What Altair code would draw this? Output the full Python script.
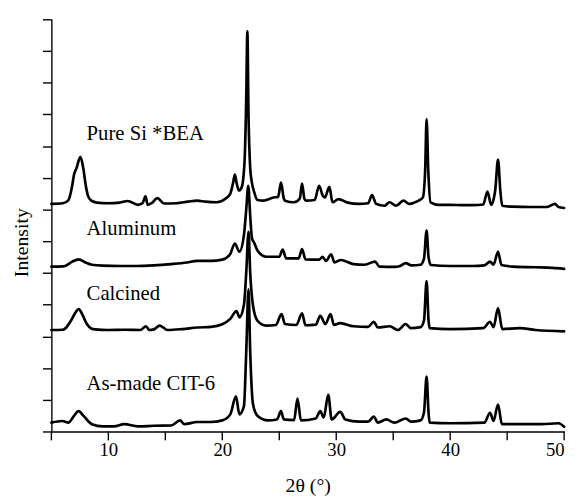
import altair as alt
import pandas as pd

# ---- Pure Si *BEA ----
pure_x = [5.0, 6.0, 6.5, 6.8, 7.0, 7.2, 7.55, 7.8, 8.0, 8.2, 8.5, 9.0, 10.0, 11.0, 11.7, 12.6, 13.0,
          13.26, 13.45, 13.8, 14.3, 14.9, 16.0, 17.0, 17.8, 18.5, 19.5, 20.3, 20.7, 20.95, 21.1, 21.25,
          21.45, 21.7, 21.95, 22.1, 22.2, 22.3, 22.45, 22.55, 22.8, 23.1, 23.6, 24.5, 24.9, 25.15, 25.4,
          25.5, 26.3, 26.8, 27.0, 27.2, 27.35, 28.1, 28.5, 28.8, 29.0, 29.4, 29.67, 30.2, 31.0, 32.0,
          32.8, 33.14, 33.5, 34.24, 34.67, 35.25, 35.9, 36.4, 37.1, 37.6, 37.8, 37.93, 38.08, 38.28,
          39.0, 40.0, 41.0, 42.0, 42.9, 43.27, 43.6, 43.95, 44.2, 44.4, 44.57, 45.5, 47.0, 48.5, 49.2,
          49.5, 50.0]
pure_y = [7.18, 7.2, 7.3, 7.7, 8.12, 8.3, 8.66, 8.3, 7.8, 7.45, 7.28, 7.22, 7.2, 7.22, 7.27, 7.15, 7.2,
          7.42, 7.15, 7.2, 7.36, 7.19, 7.2, 7.25, 7.28, 7.25, 7.23, 7.35, 7.5, 7.85, 8.1, 7.85,
          7.6, 7.7, 8.5, 10.5, 12.62, 10.0, 8.3, 7.95, 7.55, 7.3, 7.28, 7.38, 7.4, 7.85, 7.35,
          7.28, 7.23, 7.35, 7.82, 7.35, 7.28, 7.3, 7.75, 7.45, 7.38, 7.72, 7.23, 7.33, 7.22, 7.18,
          7.2, 7.46, 7.18, 7.12, 7.23, 7.12, 7.28, 7.18, 7.26, 7.38, 8.2, 9.85, 8.2, 7.23,
          7.15, 7.15, 7.14, 7.14, 7.16, 7.57, 7.15, 7.6, 8.58, 7.6, 7.12, 7.09, 7.08, 7.08, 7.18,
          7.08, 7.05]

# ---- Aluminum ----
alum_x = [5.0, 6.0, 6.25, 6.8, 7.4, 8.0, 8.55, 9.5, 11.0, 12.5, 14.0, 15.5, 16.9, 17.8, 19.0, 20.0,
          20.7, 21.1, 21.5, 21.9, 22.1, 22.28, 22.45, 22.6, 22.8, 23.1, 23.85, 25.0, 25.3, 25.6, 26.7,
          27.0, 27.3, 28.5, 28.8, 29.1, 29.55, 29.85, 30.4, 31.5, 32.5, 33.4, 33.8, 35.1, 35.6, 36.1,
          36.6, 37.4, 37.7, 37.93, 38.1, 38.3, 40.0, 42.0, 43.0, 43.5, 43.8, 44.2, 44.5, 45.5, 47.5,
          49.0, 50.0]
alum_y = [5.2, 5.21, 5.23, 5.35, 5.43, 5.33, 5.26, 5.23, 5.22, 5.22, 5.24, 5.28, 5.33, 5.38, 5.38, 5.42,
          5.6, 5.93, 5.67, 6.2, 7.0, 7.75, 6.8, 6.1, 5.95, 5.7, 5.51, 5.51, 5.74, 5.46, 5.46,
          5.75, 5.43, 5.42, 5.51, 5.38, 5.59, 5.33, 5.41, 5.28, 5.26, 5.36, 5.2, 5.19, 5.22, 5.31,
          5.24, 5.26, 5.45, 6.34, 5.5, 5.25, 5.22, 5.22, 5.24, 5.36, 5.26, 5.67, 5.25, 5.2, 5.18,
          5.16, 5.13]

# ---- Calcined ----
calc_x = [5.0, 6.0, 6.25, 6.8, 7.2, 7.4, 7.7, 8.1, 8.5, 8.85, 10.0, 11.5, 12.8, 13.3, 13.6, 14.0, 14.5,
          15.2, 16.5, 17.8, 19.0, 20.0, 20.7, 21.25, 21.5, 21.9, 22.1, 22.3, 22.45, 22.7, 23.1, 23.85,
          24.7, 25.2, 25.5, 26.5, 27.0, 27.3, 28.2, 28.6, 29.05, 29.5, 29.8, 30.35, 31.5, 32.8, 33.3,
          33.65, 34.7, 35.4, 36.1, 36.55, 37.4, 37.7, 37.93, 38.1, 38.2, 40.0, 42.9, 43.5, 43.8, 44.2,
          44.57, 46.1, 47.5, 50.0]
calc_y = [3.2, 3.21, 3.26, 3.55, 3.8, 3.86, 3.7, 3.4, 3.25, 3.22, 3.2, 3.21, 3.2, 3.32, 3.2, 3.22, 3.34,
          3.2, 3.23, 3.28, 3.3, 3.38, 3.55, 3.8, 3.6, 4.0, 5.0, 6.3, 5.0, 3.96, 3.49, 3.34,
          3.36, 3.7, 3.39, 3.36, 3.73, 3.35, 3.37, 3.65, 3.39, 3.7, 3.36, 3.42, 3.32, 3.3, 3.46,
          3.28, 3.32, 3.2, 3.39, 3.26, 3.29, 3.5, 4.74, 3.5, 3.26, 3.23, 3.26, 3.46, 3.29, 3.89,
          3.23, 3.26, 3.2, 3.16]

# ---- As-made CIT-6 ----
asm_x = [5.0, 5.95, 6.5, 7.0, 7.4, 7.8, 8.55, 9.5, 10.5, 11.4, 12.6, 14.0, 15.5, 16.3, 16.65, 17.8,
         19.0, 20.0, 20.7, 21.2, 21.5, 21.9, 22.1, 22.3, 22.45, 22.7, 23.1, 24.0, 24.8, 25.15, 25.4,
         26.3, 26.6, 26.9, 28.2, 28.6, 28.9, 29.3, 29.6, 30.35, 30.8, 32.0, 32.8, 33.3, 33.65, 34.4,
         35.1, 36.1, 36.55, 37.4, 37.7, 37.93, 38.1, 38.2, 40.0, 43.0, 43.5, 43.8, 44.2, 44.54, 46.0,
         48.0, 49.5, 50.0]
asm_y = [0.28, 0.33, 0.28, 0.5, 0.64, 0.5, 0.23, 0.16, 0.16, 0.23, 0.16, 0.18, 0.19, 0.35, 0.23, 0.3,
         0.3, 0.35, 0.54, 1.11, 0.54, 0.8, 2.5, 4.48, 2.5, 0.85, 0.49, 0.35, 0.38, 0.64, 0.38,
         0.36, 1.04, 0.35, 0.41, 0.64, 0.44, 1.16, 0.38, 0.62, 0.38, 0.31, 0.31, 0.47, 0.28, 0.38,
         0.28, 0.41, 0.31, 0.35, 0.6, 1.73, 0.6, 0.28, 0.26, 0.28, 0.59, 0.33, 0.85, 0.23, 0.23,
         0.23, 0.26, 0.15]

series_names = ["Pure Si *BEA", "Aluminum", "Calcined", "As-made CIT-6"]
series_data = [(pure_x, pure_y), (alum_x, alum_y), (calc_x, calc_y), (asm_x, asm_y)]

label_text = ["Pure Si *BEA", "Aluminum", "Calcined", "As-made CIT-6"]
label_x = [8.09, 8.09, 8.09, 8.09]
label_y = [9.18, 6.19, 4.15, 1.32]

x_ticks = [5, 10, 15, 20, 25, 30, 35, 40, 45, 50]
y_ticks = list(range(0, 14))

PLOT_W = 520
PLOT_H = 418

rows = []
for name, (xs, ys) in zip(series_names, series_data):
    for xv, yv in zip(xs, ys):
        rows.append({"series": name, "two_theta": xv, "intensity": yv})
df = pd.DataFrame(rows)
labels_df = pd.DataFrame({"label": label_text, "two_theta": label_x, "intensity": label_y})
xtick_df = pd.DataFrame({"two_theta": x_ticks})

FONT = "Liberation Serif"

x_enc = alt.X(
    "two_theta:Q",
    scale=alt.Scale(domain=[5, 50], nice=False, zero=False),
    axis=alt.Axis(
        values=x_ticks,
        tickCount=40,
        ticks=False,
        labelExpr="datum.value % 10 === 0 ? datum.label : ''",
        title="2θ (°)",
        grid=False,
        tickSize=8,
        labelBaseline="alphabetic",
        labelPadding=24,
        labelOverlap=False,
        titleBaseline="alphabetic",
        titleY=61,
    ),
)
y_enc = alt.Y(
    "intensity:Q",
    scale=alt.Scale(domain=[0, 13], nice=False, zero=False),
    axis=alt.Axis(
        values=y_ticks,
        tickCount=40,
        labels=False,
        title="Intensity",
        grid=False,
        tickSize=9,
        titleX=-24,
        titleY=226,
        titleAngle=-90,
        titleAlign="center",
        titleBaseline="alphabetic",
    ),
)

lines = alt.Chart(df).mark_line(
    color="black", strokeWidth=2.7, strokeJoin="round", strokeCap="round", interpolate="monotone"
).encode(x=x_enc, y=y_enc, detail="series:N")

texts = alt.Chart(labels_df).mark_text(
    align="left", baseline="alphabetic", font=FONT, fontSize=21, color="black"
).encode(x="two_theta:Q", y="intensity:Q", text="label:N")

xticks_marks = alt.Chart(xtick_df).mark_rule(color="black", strokeWidth=1.4).encode(
    x="two_theta:Q", y=alt.value(PLOT_H), y2=alt.value(PLOT_H + 9)
)

chart = alt.layer(lines, texts, xticks_marks).properties(
    width=PLOT_W,
    height=PLOT_H,
    autosize=alt.AutoSizeParams(type="none"),
    padding={"left": 44, "top": 8, "right": 9, "bottom": 66},
).configure_view(stroke=None).configure_axis(
    domainColor="black",
    domainWidth=1.4,
    tickColor="black",
    tickWidth=1.4,
    labelFont=FONT,
    labelFontSize=19,
    labelColor="black",
    titleFont=FONT,
    titleFontSize=20,
    titleFontWeight="normal",
    titleColor="black",
)

chart.save("out.html", embed_options={"renderer": "svg", "actions": False})
